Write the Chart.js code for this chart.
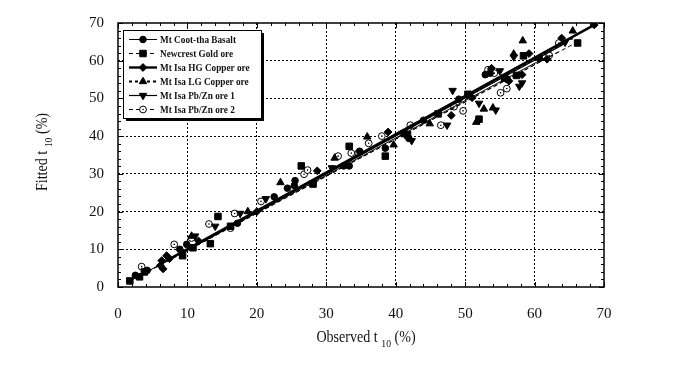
<!DOCTYPE html>
<html>
<head>
<meta charset="utf-8">
<script src="https://cdn.jsdelivr.net/npm/chart.js@4.4.0/dist/chart.umd.min.js"></script>
<style>
  html, body { margin: 0; background: #fff; }
  #wrap { width: 691px; height: 365px; }
</style>
</head>
<body>
<div id="wrap"><canvas id="chart" width="691" height="365"></canvas></div>
<script>
// ─── Eixos ───
const tickValues = [0, 10, 20, 30, 40, 50, 60, 70];
const minorStep = 2;

// ─── Mt Coot-tha Basalt ───
const cootX = [2.5, 4.2, 8.9, 9.9, 17.2, 22.5, 24.4, 25.4, 25.5, 32.5, 33.3, 34.8, 38.5, 41.9, 44.0, 49.1, 52.9, 53.6, 56.1, 60.7];
const cootY = [3.1, 4.4, 10.0, 11.3, 16.9, 23.9, 26.2, 26.9, 28.2, 32.1, 32.1, 36.0, 36.8, 39.4, 44.2, 49.8, 56.3, 56.7, 55.0, 60.6];
const cootFitX = [2.0, 61.5];
const cootFitY = [1.9, 60.8];

// ─── Newcrest Gold ore ───
const newcX = [1.7, 3.1, 3.8, 9.3, 10.8, 13.3, 14.4, 16.2, 26.4, 28.1, 33.3, 38.5, 41.2, 41.7, 46.1, 50.4, 52.0, 55.7, 57.4, 58.4, 66.2];
const newcY = [1.6, 2.7, 4.0, 8.3, 10.4, 11.5, 18.7, 16.1, 32.1, 27.3, 37.3, 34.7, 40.7, 40.3, 45.9, 51.1, 44.5, 55.4, 56.1, 61.3, 64.7];
const newcFitX = [1.7, 66.2];
const newcFitY = [1.5, 65.0];

// ─── Mt Isa HG Copper ore ───
const hgX = [6.1, 6.3, 6.5, 7.0, 7.4, 11.6, 20.0, 28.7, 38.9, 48.0, 51.0, 53.8, 56.3, 58.2, 59.2, 61.8, 63.9, 68.6];
const hgY = [5.7, 7.0, 4.8, 8.3, 7.5, 12.2, 20.0, 30.8, 41.1, 45.5, 50.2, 58.0, 54.6, 56.3, 61.9, 60.4, 66.0, 69.5];
const hgFitX = [6.0, 68.6];
const hgFitY = [6.0, 69.5];

// ─── Mt Isa LG Copper ore ───
const lgX = [10.6, 18.7, 23.4, 31.2, 35.9, 39.7, 44.9, 51.6, 52.7, 54.0, 57.0, 58.3, 65.5];
const lgY = [13.5, 20.0, 27.7, 34.2, 39.8, 37.7, 43.3, 43.7, 47.2, 47.5, 61.8, 65.3, 67.9];
const lgFitX = [10.6, 65.5];
const lgFitY = [10.5, 66.0];

// ─── Mt Isa Pb/Zn ore 1 ───
const pz1X = [11.1, 14.0, 17.6, 21.3, 30.8, 42.3, 47.4, 48.2, 52.0, 54.4, 55.0, 57.0, 57.8, 58.2, 64.4];
const pz1Y = [13.5, 16.1, 19.5, 23.4, 31.6, 38.8, 42.9, 52.1, 48.7, 46.9, 57.3, 61.0, 53.2, 54.1, 64.9];
const pz1FitX = [11.1, 64.4];
const pz1FitY = [11.0, 64.6];

// ─── Mt Isa Pb/Zn ore 2 ───
const pz2X = [3.4, 8.1, 10.6, 13.1, 16.2, 16.8, 20.6, 26.8, 27.3, 31.7, 33.6, 34.6, 36.1, 38.0, 42.1, 46.5, 48.4, 49.7, 53.3, 54.2, 55.1, 56.0, 62.1, 63.5];
const pz2Y = [5.4, 11.3, 13.0, 16.7, 15.6, 19.5, 22.7, 29.9, 31.0, 34.7, 35.5, 35.5, 38.1, 40.0, 42.9, 42.9, 47.8, 46.7, 57.6, 56.7, 51.5, 52.6, 61.4, 64.7];
const pz2FitX = [3.4, 63.5];
const pz2FitY = [3.2, 62.4];

const SERIF = "'Liberation Serif', 'Times New Roman', serif";
const pts = (xs, ys) => xs.map((v, i) => ({ x: v, y: ys[i] }));

const series = [
  { name: 'Mt Coot-tha Basalt', x: cootX, y: cootY, fx: cootFitX, fy: cootFitY, style: 'circle', r: 3.3, rot: 0, fill: '#000', dash: [], lw: 1 },
  { name: 'Newcrest Gold ore', x: newcX, y: newcY, fx: newcFitX, fy: newcFitY, style: 'rect', r: 4.6, rot: 0, fill: '#000', dash: [4, 3], lw: 1 },
  { name: 'Mt Isa HG Copper ore', x: hgX, y: hgY, fx: hgFitX, fy: hgFitY, style: 'rectRot', r: 3.9, rot: 0, fill: '#000', dash: [], lw: 2.4 },
  { name: 'Mt Isa LG Copper ore', x: lgX, y: lgY, fx: lgFitX, fy: lgFitY, style: 'triangle', r: 4.3, rot: 0, fill: '#000', dash: [3, 3], lw: 2 },
  { name: 'Mt Isa Pb/Zn ore 1', x: pz1X, y: pz1Y, fx: pz1FitX, fy: pz1FitY, style: 'triangle', r: 4.3, rot: 180, fill: '#000', dash: [], lw: 1.2 },
  { name: 'Mt Isa Pb/Zn ore 2', x: pz2X, y: pz2Y, fx: pz2FitX, fy: pz2FitY, style: 'circle', r: 3.4, rot: 0, fill: '#fff', dash: [4, 3], lw: 1 }
];

const datasets = [];
series.forEach(s => {
  datasets.push({
    label: s.name, data: pts(s.x, s.y), showLine: false,
    pointStyle: s.style, pointRadius: s.r, pointRotation: s.rot,
    backgroundColor: s.fill, borderColor: '#000', borderWidth: 1, order: 2
  });
  datasets.push({
    label: s.name + ' fit', data: pts(s.fx, s.fy), showLine: true,
    pointRadius: 0, borderColor: '#000', borderWidth: s.lw, borderDash: s.dash, fill: false, order: 1
  });
});
// ponto central dos círculos abertos
datasets.push({
  label: 'centros', data: pts(pz2X, pz2Y), showLine: false,
  pointStyle: 'circle', pointRadius: 0.8, backgroundColor: '#000', borderWidth: 0, order: 0
});

// texto levemente condensado, como no original
const SQUEEZE = 0.88;

function drawTitle(ctx, x, y, main, sub, tail, angle) {
  ctx.save();
  ctx.translate(x, y);
  ctx.rotate(angle);
  ctx.scale(SQUEEZE, 1);
  ctx.fillStyle = '#111';
  ctx.textBaseline = 'alphabetic';
  ctx.textAlign = 'left';
  ctx.font = '16px ' + SERIF;
  const w1 = ctx.measureText(main).width, w3 = ctx.measureText(tail).width;
  ctx.font = '11px ' + SERIF;
  const w2 = ctx.measureText(sub).width;
  let cx = -(w1 + w2 + w3) / 2;
  ctx.font = '16px ' + SERIF;
  ctx.fillText(main, cx, 0); cx += w1;
  ctx.font = '11px ' + SERIF;
  ctx.fillText(sub, cx, 5); cx += w2;
  ctx.font = '16px ' + SERIF;
  ctx.fillText(tail, cx, 0);
  ctx.restore();
}

const framePlugin = {
  id: 'frame',
  afterDatasetsDraw(chart) {
    const { ctx, chartArea: a, scales: { x, y } } = chart;
    ctx.save();
    ctx.strokeStyle = '#000';
    ctx.lineWidth = 1.5;
    ctx.setLineDash([]);
    ctx.strokeRect(a.left, a.top, a.right - a.left, a.bottom - a.top);
    ctx.lineWidth = 1;
    // marcas menores para dentro nos quatro lados
    for (let v = x.min; v <= x.max; v += minorStep) {
      const len = v % 10 === 0 ? 5 : 3;
      const px = Math.round(x.getPixelForValue(v)) + 0.5;
      ctx.beginPath();
      ctx.moveTo(px, a.bottom); ctx.lineTo(px, a.bottom - len);
      ctx.moveTo(px, a.top); ctx.lineTo(px, a.top + len);
      ctx.stroke();
    }
    for (let v = y.min; v <= y.max; v += minorStep) {
      const len = v % 10 === 0 ? 5 : 3;
      const py = Math.round(y.getPixelForValue(v)) + 0.5;
      ctx.beginPath();
      ctx.moveTo(a.left, py); ctx.lineTo(a.left + len, py);
      ctx.moveTo(a.right, py); ctx.lineTo(a.right - len, py);
      ctx.stroke();
    }
    ctx.restore();
  },
  afterDraw(chart) {
    const { ctx, chartArea: a } = chart;
    drawTitle(ctx, (a.left + a.right) / 2 + 5, 342, 'Observed t ', '10', ' (%)', 0);
    drawTitle(ctx, 47, (a.top + a.bottom) / 2 - 3, 'Fitted t ', '10', ' (%)', -Math.PI / 2);

    // legenda: linha + marcador
    const bx = 123, by = 30, bw = 138, bh = 88;
    ctx.save();
    ctx.fillStyle = '#000';
    ctx.fillRect(bx + 3, by + 3, bw, bh);
    ctx.fillStyle = '#fff';
    ctx.fillRect(bx, by, bw, bh);
    ctx.strokeStyle = '#000';
    ctx.lineWidth = 1;
    ctx.strokeRect(bx + 0.5, by + 0.5, bw, bh);
    series.forEach((s, i) => {
      const yy = 39.5 + i * 14;
      ctx.save();
      ctx.strokeStyle = '#000';
      ctx.lineWidth = s.lw;
      ctx.setLineDash(s.dash);
      ctx.beginPath(); ctx.moveTo(129, yy); ctx.lineTo(157, yy); ctx.stroke();
      ctx.restore();
      ctx.save();
      ctx.fillStyle = s.fill;
      ctx.strokeStyle = '#000';
      ctx.lineWidth = 1;
      Chart.helpers.drawPoint(ctx, { pointStyle: s.style, radius: s.r, rotation: s.rot, borderWidth: 1 }, 143, yy);
      if (s.fill === '#fff') {
        ctx.fillStyle = '#000';
        ctx.beginPath(); ctx.arc(143, yy, 0.8, 0, Math.PI * 2); ctx.fill();
      }
      ctx.restore();
      ctx.save();
      ctx.translate(160, yy + 0.5);
      ctx.scale(SQUEEZE, 1);
      ctx.fillStyle = '#111';
      ctx.font = 'bold 10.5px ' + SERIF;
      ctx.textBaseline = 'middle';
      ctx.fillText(s.name, 0, 0);
      ctx.restore();
    });
    ctx.restore();
  }
};

const hideEdges = c => (c.tick && (c.tick.value === 0 || c.tick.value === 70)) ? 'rgba(0,0,0,0)' : '#000';

new Chart(document.getElementById('chart'), {
  type: 'scatter',
  data: { datasets },
  options: {
    responsive: false,
    animation: false,
    devicePixelRatio: 1,
    layout: { padding: { left: 0, right: 87, top: 17, bottom: 0 } },
    plugins: { legend: { display: false }, tooltip: { enabled: false } },
    scales: {
      x: {
        type: 'linear', min: 0, max: 70,
        afterBuildTicks: s => { s.ticks = tickValues.map(v => ({ value: v })); },
        afterFit: s => { s.height = 78; },
        grid: { color: hideEdges, lineWidth: 1, drawTicks: false },
        border: { display: false, dash: [2, 2] },
        ticks: { padding: 18, color: '#111', font: { family: SERIF, size: 15 }, maxRotation: 0 }
      },
      y: {
        type: 'linear', min: 0, max: 70,
        afterBuildTicks: s => { s.ticks = tickValues.map(v => ({ value: v })); },
        afterFit: s => { s.width = 118; },
        grid: { color: hideEdges, lineWidth: 1, drawTicks: false },
        border: { display: false, dash: [2, 2] },
        ticks: { padding: 14, color: '#111', font: { family: SERIF, size: 15 } }
      }
    }
  },
  plugins: [framePlugin]
});
</script>
</body>
</html>
